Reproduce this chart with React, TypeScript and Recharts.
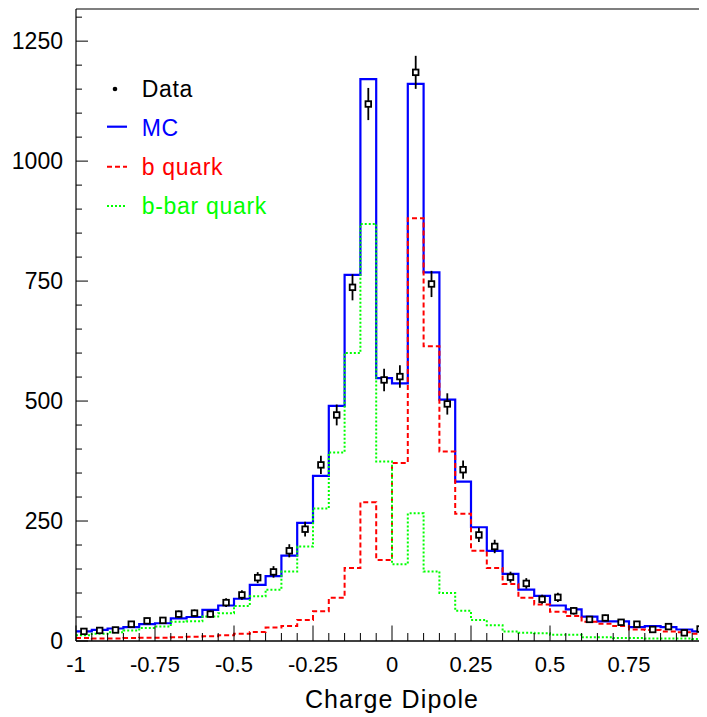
import React from 'react';
import { ComposedChart, Line, Scatter, XAxis, YAxis, ErrorBar, ReferenceLine } from 'recharts';

// ---- data (40 bins of width 0.05 between -1 and 1) ----
const BIN_CENTERS = Array.from({ length: 40 }, (_, i) => Math.round((-0.975 + 0.05 * i) * 1000) / 1000);
const BIN_EDGES = Array.from({ length: 41 }, (_, i) => Math.round(-100 + 5 * i) / 100);

const DATA_COUNTS = [20, 22, 23, 35, 42, 43, 56, 58, 56, 80, 96, 132, 144, 188, 233, 367, 471, 737, 1119, 544,
  551, 1185, 744, 494, 357, 221, 197, 133, 120, 87, 91, 63, 45, 48, 39, 35, 24, 30, 17, 25];
const DATA_ERRORS = [4.5, 4.7, 4.8, 5.9, 6.5, 6.6, 7.5, 7.6, 7.5, 8.9, 9.8, 11.5, 12, 13.7, 15.3, 19.2, 21.7, 27.1, 33.5, 23.3,
  23.5, 34.4, 27.3, 22.2, 18.9, 14.9, 14, 11.5, 11, 9.3, 9.5, 7.9, 6.7, 6.9, 6.2, 5.9, 4.9, 5.5, 4.1, 5];
const MC_COUNTS = [20, 23, 26, 29, 35, 37, 47, 50, 65, 74, 88, 117, 135, 178, 246, 344, 490, 763, 1171, 548,
  537, 1161, 768, 503, 332, 237, 188, 140, 107, 94, 74, 66, 51, 41, 41, 29, 31, 29, 24, 20];
const B_QUARK = [6, 5, 5, 6, 7, 7, 8, 9, 10, 12, 15, 19, 28, 31, 44, 62, 90, 152, 289, 169,
  371, 881, 614, 395, 265, 188, 152, 119, 90, 76, 61, 52, 40, 36, 31, 24, 23, 20, 18, 15];
const BBAR_QUARK = [12, 15, 18, 22, 27, 30, 40, 41, 51, 58, 73, 93, 107, 145, 197, 276, 393, 600, 869, 374,
  160, 266, 145, 100, 63, 44, 33, 20, 17, 16, 13, 13, 8, 8, 6, 6, 5, 5, 5, 4];

const X_MAJOR = [-1, -0.75, -0.5, -0.25, 0, 0.25, 0.5, 0.75, 1];
const X_LABELS = ['-1', '-0.75', '-0.5', '-0.25', '0', '0.25', '0.5', '0.75', '1'];
const Y_MAJOR = [0, 250, 500, 750, 1000, 1250];
const Y_LABELS = ['0', '250', '500', '750', '1000', '1250'];
const Y_MINOR = Array.from({ length: 27 }, (_, i) => i * 50);
const Y_MAX = 1317;

const LEGEND_ITEMS = ['Data', 'MC', 'b quark', 'b-bar quark'];
const X_TITLE = 'Charge Dipole';

// ---- chart building ----
const FONT = '"Liberation Sans", Arial, Helvetica, sans-serif';
const W = 712;
const H = 709;

const histData = (vals: number[]) =>
  BIN_EDGES.map((x, i) => ({ x, y: vals[Math.min(i, vals.length - 1)] }));

const mcData = histData(MC_COUNTS);
const bData = histData(B_QUARK);
const bbarData = histData(BBAR_QUARK);
const pointData = BIN_CENTERS.map((x, i) => ({ x, y: DATA_COUNTS[i], err: DATA_ERRORS[i] }));

const isMajorX = (v: number) => X_MAJOR.some((m) => Math.abs(m - v) < 1e-6);

const YTick = (props: any) => {
  const { x, y, payload } = props;
  const v = payload.value;
  const idx = Y_MAJOR.indexOf(v);
  const ax = x + 13;
  return (
    <g>
      <line x1={ax} x2={ax + (idx >= 0 ? 12 : 6)} y1={y} y2={y} stroke="#000" strokeWidth={1} />
      {idx >= 0 && (
        <text x={x} y={y + 8} textAnchor="end" fontSize={23} fontFamily={FONT} fill="#000">
          {Y_LABELS[idx]}
        </text>
      )}
    </g>
  );
};

const XTick = (props: any) => {
  const { x, y, payload } = props;
  const v = payload.value;
  const major = isMajorX(v);
  const idx = X_MAJOR.findIndex((m) => Math.abs(m - v) < 1e-6);
  return (
    <g>
      <line x1={x} x2={x} y1={y} y2={y - (major ? 15.5 : 8)} stroke="#000" strokeWidth={1} />
      {major && (
        <text x={x} y={y + 30.5} textAnchor="middle" fontSize={22} fontFamily={FONT} fill="#000">
          {X_LABELS[idx]}
        </text>
      )}
    </g>
  );
};

const SquareMarker = (props: any) => {
  const { cx, cy } = props;
  if (cx == null || cy == null) return null;
  return <rect x={cx - 2.8} y={cy - 2.8} width={5.6} height={5.6} fill="#fff" stroke="#000" strokeWidth={1.8} />;
};

export default function App() {
  return (
    <div style={{ position: 'relative', width: 699, height: H, overflow: 'hidden' }}>
      <style>{'html,body{overflow:hidden;background:#fff}'}</style>
      <ComposedChart width={W} height={H} margin={{ top: 1, right: 12, left: 0, bottom: 0 }}>
        <XAxis
          dataKey="x"
          type="number"
          domain={[-1, 1]}
          allowDataOverflow
          ticks={BIN_EDGES}
          interval={0}
          tickSize={0}
          tickMargin={0}
          tickLine={false}
          tick={<XTick />}
          axisLine={{ stroke: '#000', strokeWidth: 1.4 }}
          height={76}
        />
        <YAxis
          dataKey="y"
          type="number"
          domain={[0, Y_MAX]}
          allowDataOverflow
          ticks={Y_MINOR}
          interval={0}
          tickSize={0}
          tickMargin={13}
          tickLine={false}
          tick={<YTick />}
          axisLine={{ stroke: '#000', strokeWidth: 1.2 }}
          width={68}
        />
        <ReferenceLine y={Y_MAX} stroke="#000" strokeWidth={1.2} />
        <Line
          data={mcData}
          dataKey="y"
          type="stepAfter"
          stroke="#0000ff"
          strokeWidth={2.2}
          dot={false}
          activeDot={false}
          isAnimationActive={false}
        />
        <Line
          data={bData}
          dataKey="y"
          type="stepAfter"
          stroke="#ff0000"
          strokeWidth={2}
          strokeDasharray="5 3"
          dot={false}
          activeDot={false}
          isAnimationActive={false}
        />
        <Line
          data={bbarData}
          dataKey="y"
          type="stepAfter"
          stroke="#00ff00"
          strokeWidth={2}
          strokeDasharray="2 2"
          dot={false}
          activeDot={false}
          isAnimationActive={false}
        />
        <Scatter data={pointData} dataKey="y" shape={<SquareMarker />} isAnimationActive={false}>
          <ErrorBar dataKey="err" direction="y" width={0} stroke="#000" strokeWidth={1.8} isAnimationActive={false} />
        </Scatter>
      </ComposedChart>
      <svg
        width={W}
        height={H}
        style={{ position: 'absolute', left: 0, top: 0, pointerEvents: 'none' }}
      >
        <g fontFamily={FONT} fontSize={23} letterSpacing={0.7}>
          <circle cx={107} cy={81} r={2.3} fill="#000" />
          <text x={133.7} y={89.3} fill="#000">{LEGEND_ITEMS[0]}</text>
          <line x1={99} x2={119} y1={118.7} y2={118.7} stroke="#0000ff" strokeWidth={2.2} />
          <text x={133.7} y={128} fill="#0000ff">{LEGEND_ITEMS[1]}</text>
          <line x1={99} x2={119} y1={158.7} y2={158.7} stroke="#ff0000" strokeWidth={2} strokeDasharray="5 3" />
          <text x={133.7} y={167} fill="#ff0000">{LEGEND_ITEMS[2]}</text>
          <line x1={99} x2={119} y1={198} y2={198} stroke="#00ff00" strokeWidth={2} strokeDasharray="2 2" />
          <text x={133.7} y={206.3} fill="#00ff00">{LEGEND_ITEMS[3]}</text>
        </g>
        <text x={384} y={700} textAnchor="middle" fontFamily={FONT} fontSize={25} letterSpacing={1.1} fill="#000">
          {X_TITLE}
        </text>
      </svg>
    </div>
  );
}
